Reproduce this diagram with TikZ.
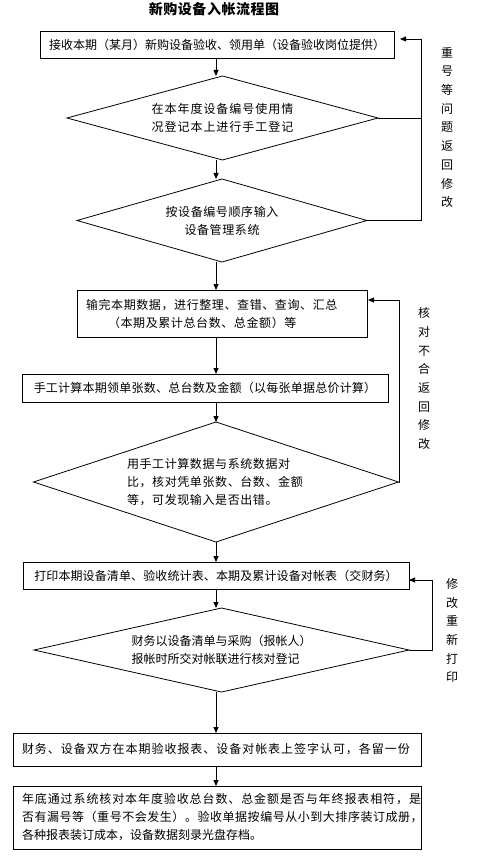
\documentclass[tikz,border=0pt]{standalone}
\usepackage{fontspec}
\newfontfamily\cjk{Noto Sans CJK SC}
\usetikzlibrary{shapes.geometric,arrows.meta}
\begin{document}
\begin{tikzpicture}[x=1pt,y=-1pt,
  every node/.style={font=\cjk\fontsize{12}{18}\selectfont, inner sep=0pt, outer sep=0pt},
  lsp/.style={font={\cjk\fontsize{12}{18}\selectfont\addfontfeatures{LetterSpace=#1}}},
  procbox/.style={draw, line width=0.8pt, rectangle, inner xsep=9pt},
  decision/.style={draw, line width=0.8pt, diamond},
  arr/.style={line width=0.8pt, -{Triangle[length=6pt,width=5pt]}},
  link/.style={line width=0.8pt},
  vlabel/.style={align=center, font=\cjk\fontsize{12}{18.7}\selectfont}]
\useasboundingbox (0,0) rectangle (497,858);
\fill[white] (0,0) rectangle (497,858);

\node[font={\cjk\bfseries\fontsize{14}{16}\selectfont\addfontfeatures{LetterSpace=4}}] (title) at (214,9) {新购设备入帐流程图};

\node[procbox, minimum width=354pt, minimum height=27pt] (b1) at (217,44.5) {接收本期（某月）新购设备验收、领用单（设备验收岗位提供）};

\node[decision, lsp=8, aspect=3.7, minimum width=311pt, minimum height=84pt, align=center] (d1) at (222.5,118) {在本年度设备编号使用情\\况登记本上进行手工登记};

\node[decision, lsp=5, aspect=3.5, minimum width=290pt, minimum height=83pt, align=center] (d2) at (222,220.5) {按设备编号顺序输入\\设备管理系统};

\node[procbox, lsp=5, minimum width=290pt, minimum height=47pt, text width=272pt, align=left] (b2) at (222,313.5) {输完本期数据，进行整理、查错、查询、汇总\\\hspace*{22pt}（本期及累计总台数、总金额）等};

\node[procbox, lsp=2, minimum width=366pt, minimum height=28pt] (b3) at (205,388) {手工计算本期领单张数、总台数及金额（以每张单据总价计算）};

\node[decision, lsp=5, aspect=3.05, minimum width=365pt, minimum height=120pt, text width=178pt, align=left] (d3) at (216,482) {用手工计算数据与系统数据对\\比，核对凭单张数、台数、金额\\等，可发现输入是否出错。};

\node[procbox, lsp=1, minimum width=386pt, minimum height=27pt] (b4) at (216,575.5) {打印本期设备清单、验收统计表、本期及累计设备对帐表（交财务）};

\node[decision, aspect=4.45, minimum width=375pt, minimum height=84pt, text width=180pt, align=left] (d4) at (221.5,650) {财务以设备清单与采购（报帐人）\\报帐时所交对帐联进行核对登记};

\node[procbox, lsp=8, minimum width=408pt, minimum height=33pt, text width=390pt, align=left] (b5) at (217,749.5) {财务、设备双方在本期验收报表、设备对帐表上签字认可，各留一份};

\node[procbox, minimum width=408pt, minimum height=63pt, text width=390pt, align=left] (b6) at (217,817.5) {{\addfontfeatures{LetterSpace=7.5}年底通过系统核对本年度验收总台数、总金额是否与年终报表相符，是}\\{\addfontfeatures{LetterSpace=4.5}否有漏号等（重号不会发生）。验收单据按编号从小到大排序装订成册，}\\各种报表装订成本，设备数据刻录光盘存档。};

% side labels
\node[vlabel] (lab1) at (447,127.5) {重\\号\\等\\问\\题\\返\\回\\修\\改};
\node[vlabel] (lab2) at (424,378.5) {核\\对\\不\\合\\返\\回\\修\\改};
\node[vlabel] (lab3) at (452,630.5) {修\\改\\重\\新\\打\\印};

% main spine
\coordinate (sp) at (216,0);
\draw[arr] (b1.south -| sp) -- (d1.north -| sp);
\draw[arr] (d1.south -| sp) -- (d2.north -| sp);
\draw[arr] (d2.south -| sp) -- (b2.north -| sp);
\draw[arr] (b2.south -| sp) -- (b3.north -| sp);
\draw[arr] (b3.south -| sp) -- (d3.north -| sp);
\draw[arr] (d3.south -| sp) -- (b4.north -| sp);
\draw[arr] (b4.south -| sp) -- (d4.north -| sp);
\draw[arr] (d4.south -| sp) -- (b5.north -| sp);
\draw[arr] (b5.south -| sp) -- (b6.north -| sp);

% feedback loops
\coordinate (L1) at (421,39);
\draw[link] (d1.east) -- (d1.east -| L1);
\draw[arr, shorten >=6pt] (d2.east) -| (L1) -- (L1 -| b1.east);

\coordinate (L2) at (399,300);
\draw[arr, shorten >=1pt] (d3.east) -| (L2) -- (L2 -| b2.east);

\coordinate (L3) at (432,580);
\draw[arr] (d4.east) -| (L3) -- (L3 -| b4.east);
\end{tikzpicture}
\end{document}
